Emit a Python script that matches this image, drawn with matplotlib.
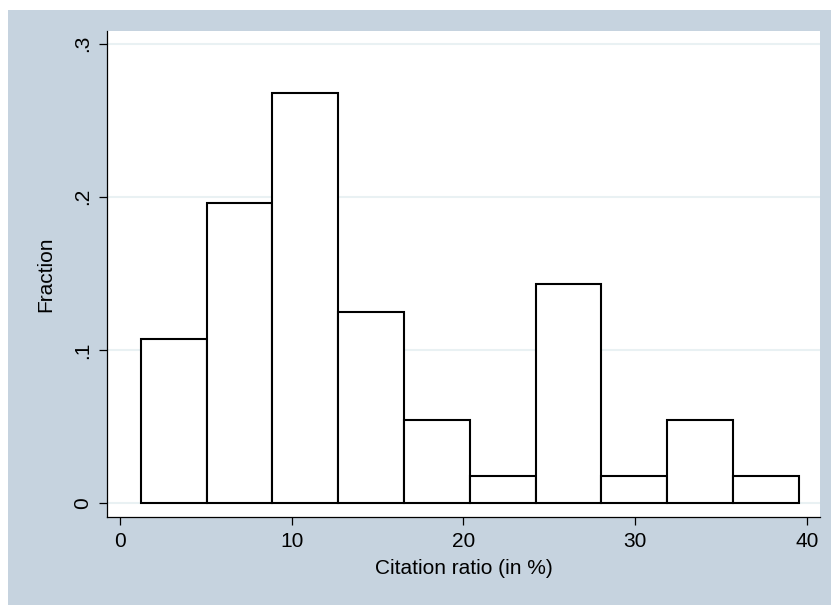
import matplotlib
matplotlib.use("Agg")
import matplotlib.pyplot as plt
from matplotlib.patches import Rectangle

# Data
bin_edges = [1.21, 5.04, 8.87, 12.71, 16.54, 20.37, 24.20, 28.03, 31.87, 35.70, 39.53]
fractions = [0.107, 0.196, 0.268, 0.125, 0.054, 0.018, 0.143, 0.018, 0.054, 0.018]
x_ticks = [0, 10, 20, 30, 40]
x_ticklabels = ["0", "10", "20", "30", "40"]
y_ticks = [0, 0.1, 0.2, 0.3]
y_ticklabels = ["0", ".1", ".2", ".3"]
x_label = "Citation ratio (in %)"
y_label = "Fraction"

plt.rcParams['font.family'] = ['Liberation Sans', 'DejaVu Sans']

BG = "#c6d3df"
GRID = "#e9f1f3"

fig = plt.figure(figsize=(8.31, 6.05), dpi=100, facecolor="white")
fig.patches.append(Rectangle((8 / 831, 0), 1 - 8 / 831, 1 - 10 / 605,
                             transform=fig.transFigure, facecolor=BG,
                             edgecolor="none", zorder=-10))

ax = fig.add_axes([107 / 831, 1 - 517 / 605, (820 - 107) / 831, (517 - 31) / 605])
ax.set_facecolor("white")

lefts = bin_edges[:-1]
widths = [b - a for a, b in zip(bin_edges[:-1], bin_edges[1:])]
ax.bar(lefts, fractions, width=widths, align="edge", facecolor="white",
       edgecolor="black", linewidth=1.5, zorder=3)

for yv in y_ticks:
    ax.axhline(yv, color=GRID, linewidth=1.5, zorder=1)

ax.set_xlim(-0.757, 40.77)
ax.set_ylim(-0.0091, 0.3083)

ax.set_xticks(x_ticks)
ax.set_xticklabels(x_ticklabels)
ax.set_yticks(y_ticks)
ax.set_yticklabels(y_ticklabels, rotation=90, va="center")

ax.tick_params(axis="both", direction="out", length=5.6, width=0.9,
               color="black", labelsize=15, pad=5)

for side in ["top", "right"]:
    ax.spines[side].set_visible(False)
for side in ["left", "bottom"]:
    ax.spines[side].set_color("black")
    ax.spines[side].set_linewidth(0.9)

ax.set_xlabel(x_label, fontsize=15, labelpad=6)
ax.set_ylabel(y_label, fontsize=15, labelpad=13)

fig.savefig("out.png", dpi=100, facecolor="white")
